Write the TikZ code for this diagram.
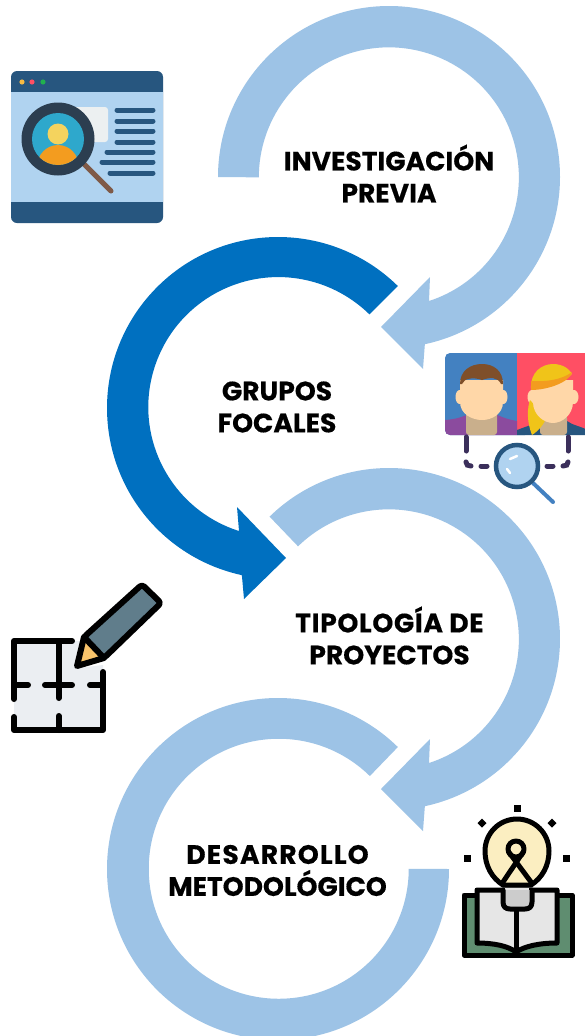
\documentclass[tikz,border=0pt]{standalone}
\usepackage{fontspec}
\setmainfont{Poppins}[BoldFont={Poppins Bold},BoldFeatures={FakeBold=0.35}]
\definecolor{lightarc}{HTML}{9DC3E6}
\definecolor{darkarc}{HTML}{0070C0}
\definecolor{navy}{HTML}{27567F}
\definecolor{paleblue}{HTML}{B0D3F0}
\definecolor{slate}{HTML}{2C3E50}
\definecolor{skin}{HTML}{FFD7A8}
\definecolor{neck}{HTML}{C9AF8C}
\definecolor{amber}{HTML}{F39C1F}
\definecolor{blond}{HTML}{F0C419}
\definecolor{dashc}{HTML}{3B2F5B}
\definecolor{lensc}{HTML}{2EA8CC}
\definecolor{headc}{HTML}{F4D35E}
\definecolor{cardc}{HTML}{ECF0F1}
\definecolor{handlec}{HTML}{7F5A48}
\definecolor{manbg}{HTML}{4381C1}
\definecolor{womanbg}{HTML}{FF4F64}
\definecolor{purplec}{HTML}{8B4B9E}
\definecolor{hairc}{HTML}{7F4F2A}
\definecolor{planc}{HTML}{EBEEF2}
\definecolor{pencilc}{HTML}{607D8B}
\definecolor{tipc}{HTML}{F9C46B}
\definecolor{coverc}{HTML}{5F8D70}
\definecolor{bulbc}{HTML}{FBEEC1}
\definecolor{pagec}{HTML}{E6E6E6}
\tikzset{
  steplabel/.style={align=center,font=\fontsize{26.6}{32}\selectfont\bfseries,text=black,inner sep=0pt},
  arclight/.style={fill=lightarc},
  arcdark/.style={fill=darkarc},
  docline/.style={navy,line width=5pt,line cap=round},
  dashline/.style={dashc,line width=5pt,line cap=round},
  inkline/.style={black,line width=6pt,line cap=round,line join=round},
  bulbline/.style={black,line width=5pt,line cap=round,line join=round},
}
\begin{document}
\begin{tikzpicture}[x=1pt,y=1pt,yscale=-1]
\clip (0,0) rectangle (585,1036);
\fill[white] (0,0) rectangle (585,1036);
% arcs
\fill[arclight] (389,177) ++(180:171pt) arc[start angle=180,end angle=437.9,radius=171pt]
  -- (423,369) -- (381,327) -- (430,277) -- (429,301)
  arc[start angle=432,end angle=180,radius=130pt] -- cycle;
\fill[arcdark] (278,408) ++(314.5:171pt) arc[start angle=314.5,end angle=102.2,radius=171pt]
  -- (244,599) -- (286,558) -- (237,507) -- (239,531)
  arc[start angle=107.6,end angle=314.5,radius=130pt] -- cycle;
\fill[arclight] (389,639) ++(225.7:171pt) arc[start angle=225.7,end angle=437.9,radius=171pt]
  -- (423,831) -- (381,789) -- (430,739) -- (429,763)
  arc[start angle=432,end angle=225.7,radius=130pt] -- cycle;
\fill[arclight] (278,869) ++(0:171pt) arc[start angle=0,end angle=314.5,radius=171pt]
  -- ++(-28,29) arc[start angle=314.5,end angle=0,radius=130pt] -- cycle;
% labels
\node[steplabel] (inv) at (389,173.5) {INVESTIGACIÓN\\PREVIA};
\node[steplabel] (gru) at (277,407) {GRUPOS\\FOCALES};
\node[steplabel] (tip) at (389.5,635.5) {{\addfontfeature{LetterSpace=2.5}TIPOLOGÍA DE}\\PROYECTOS};
\node[steplabel] (des) at (277.5,870.5) {{\addfontfeature{LetterSpace=4.5}DESARROLLO}\\METODOLÓGICO};
% icon 1
\fill[navy,rounded corners=6pt] (11,71) rectangle (163,223);
\fill[paleblue] (11,92) rectangle (163,202);
\fill[headc!70!orange] (22,82) circle[radius=2.6pt];
\fill[womanbg] (32,82) circle[radius=2.6pt];
\fill[coverc!50!green!70!teal] (43,82) circle[radius=2.6pt];
\fill[cardc,rounded corners=3pt] (70,107) rectangle (108,142);
\foreach \yy/\xx in {110/116,121/116,131/116,142/116,152/106,162/101,173/109}
  \draw[docline] (\xx+1,\yy) -- (153,\yy);
\draw[handlec,line width=5pt,line cap=round] (84,164) -- (111,191);
\fill[slate] (58,139) circle[radius=36.5pt];
\fill[lensc] (58,139) circle[radius=26pt];
\begin{scope}
\clip (58,139) circle[radius=26pt];
\fill[amber] (58,167) ellipse[x radius=21pt,y radius=22pt];
\end{scope}
\fill[headc] (58,134) circle[radius=10.5pt];
% icon 2
\fill[manbg,rounded corners=5pt] (445,353) rectangle (530,435);
\fill[womanbg] (517,353) rectangle (590,435);
\fill[purplec] (445,420) .. controls (460,419) and (465,415) .. (470,414) -- (495,414) .. controls (500,416) and (505,419) .. (517,421) -- (517,435) -- (450,435) .. controls (447,435) and (445,433) .. (445,430) -- cycle;
\fill[neck,rounded corners=3pt] (466,410) rectangle (497,435);
\fill[skin] (459.5,397) ellipse[x radius=4pt,y radius=7pt];
\fill[skin] (503.5,397) ellipse[x radius=4pt,y radius=7pt];
\fill[skin] (460,380) -- (503,380) -- (503,402) .. controls (503,414) and (492,420) .. (482,420) .. controls (472,420) and (460,414) .. (460,402) -- cycle;
\fill[hairc] (460,384) .. controls (460,371) and (470,364) .. (482,364) .. controls (494,364) and (503,371) .. (503,384) -- (501,384) .. controls (498,377) and (490,377) .. (482,380) .. controls (474,377) and (464,378) .. (462,384) -- cycle;
% woman
\fill[navy] (517,435) -- (517,430) .. controls (530,425) and (535,424) .. (540,421) -- (567,421) .. controls (572,425) and (580,426) .. (590,431) -- (590,435) -- cycle;
\fill[neck,rounded corners=3pt] (540,415) rectangle (567,435);
\fill[skin] (532,397) ellipse[x radius=4.5pt,y radius=7pt];
\fill[skin] (574,397) ellipse[x radius=4.5pt,y radius=7pt];
\fill[blond] (530,400) .. controls (525,415) and (530,430) .. (532,435) .. controls (540,430) and (545,422) .. (546,418) -- cycle;
\fill[skin] (533,380) -- (573,380) -- (573,402) .. controls (573,415) and (562,423) .. (553,423) .. controls (544,423) and (533,415) .. (533,402) -- cycle;
\fill[blond] (531,389) .. controls (530,372) and (542,364) .. (553,364) .. controls (564,364) and (570,370) .. (572,374) .. controls (562,384) and (545,388) .. (531,389) -- cycle;
\fill[amber] (531,381) .. controls (545,382) and (562,380) .. (572,372) .. controls (570,382) and (548,390) .. (531,390) -- cycle;
% dashes
\draw[dashline] (466,437) -- (466,451);
\draw[dashline] (568,437) -- (568,451);
\draw[dashline] (466,462) .. controls (466,465) and (468,466) .. (471,466);
\draw[dashline] (481,466) -- (487,466);
\draw[dashline] (547,466) -- (553,466);
\draw[dashline] (563,466) .. controls (566,466) and (568,465) .. (568,462);
\draw[manbg,line width=4pt,line cap=round] (533,483) -- (553,502);
\draw[navy,fill=paleblue,line width=4.5pt] (517,466) circle[radius=21pt];
\draw[white,line width=2.5pt,line cap=round] (510,459) -- (517,456);
\draw[white,line width=2.5pt,line cap=round] (507,469) -- (510,473);
% icon 3
\fill[planc] (14,641) -- (85,641) -- (78,668) -- (103,665) -- (103,730) -- (14,730) -- cycle;
\draw[inkline] (72,641) -- (14,641) -- (14,699);
\draw[inkline] (14,717) -- (14,730) -- (103,730) -- (103,672);
\draw[inkline] (58.7,641) -- (58.7,698);
\draw[inkline] (58.7,716) -- (58.7,730);
\draw[inkline] (14,685) -- (28,685);
\draw[inkline] (45,685) -- (72,685);
\draw[inkline] (90,685) -- (103,685);
\fill[tipc] (84,637) -- (104,658) -- (77,666) -- cycle;
\draw[inkline,fill=pencilc,rounded corners=3pt] (84,637) -- (142,584.5) -- (161,603) -- (104,658) -- cycle;
\draw[inkline] (84,637) -- (77,666) -- (104,658);
% icon 4
\fill[black] (513.5,804.5) rectangle (520.5,811.5);
\fill[black] (463.5,854.5) rectangle (470.5,861.5);
\fill[black] (562.5,854.5) rectangle (569.5,861.5);
\fill[black] (482,818.5) -- (486.5,823) -- (482,827.5) -- (477.5,823) -- cycle;
\fill[black] (552,818.5) -- (556.5,823) -- (552,827.5) -- (547.5,823) -- cycle;
\draw[bulbline,fill=coverc] (464,895) rectangle (572,955);
\draw[bulbline,fill=bulbc] (503,885) .. controls (492,878) and (485,866) .. (485,851) arc[start angle=180,end angle=360,radius=32pt] .. controls (549,866) and (542,878) .. (531,885) -- cycle;
\draw[bulbline] (503,882) -- (522.5,853);
\draw[bulbline] (531,882) -- (509.5,853);
\draw[bulbline] (516,849) circle[radius=8pt];
\draw[bulbline,fill=pagec] (477,890) -- (557,890) -- (557,943) .. controls (540,943) and (525,946) .. (516,952) .. controls (508,946) and (494,943) .. (477,943) -- cycle;
\draw[bulbline] (516,908) -- (516,950);
\fill[black!10] (505,888) rectangle (529,894);
\draw[bulbline,fill=black!20] (503,890) -- (503,902) .. controls (503,907) and (506,909) .. (510,909) -- (525,909) .. controls (529,909) and (532,907) .. (532,902) -- (532,890);
\end{tikzpicture}
\end{document}
